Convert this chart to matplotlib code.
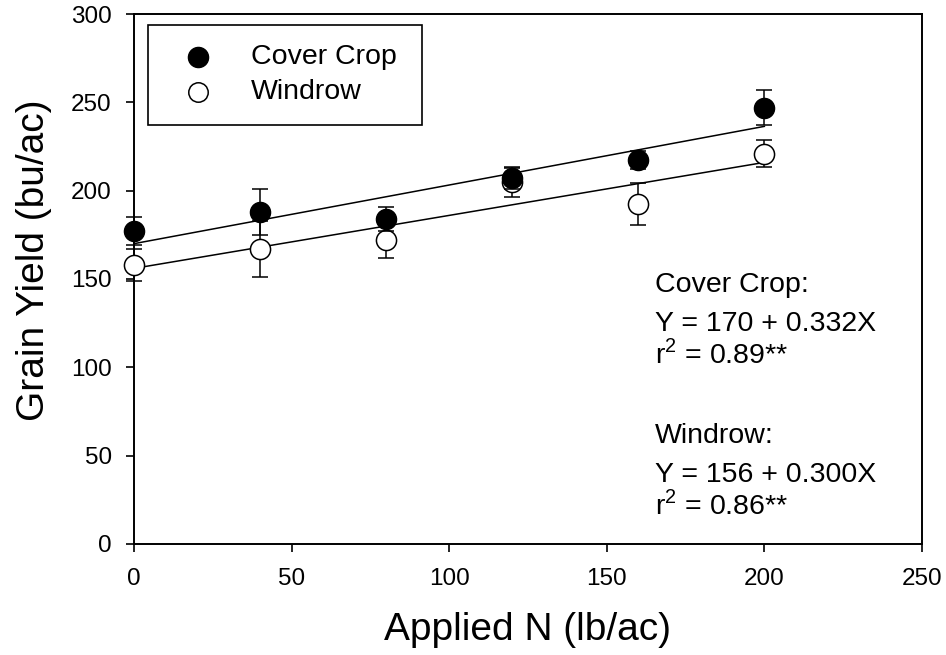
import numpy as np
import matplotlib
matplotlib.use("Agg")
import matplotlib.pyplot as plt
from matplotlib.patches import Rectangle

plt.rcParams['font.family'] = ['Liberation Sans', 'DejaVu Sans']

# data
n_rate = [0, 40, 80, 120, 160, 200]
cover_yield = [177, 188, 184, 207, 217.5, 247]
cover_err = [8, 13, 7, 6, 5, 10]
windrow_yield = [158, 167, 172, 205, 192.5, 221]
windrow_err = [9, 16, 10, 8.5, 12, 7.5]

# fitted lines (from the equations on the chart)
cover_fit = (170, 0.332)
windrow_fit = (156, 0.300)
fit_range = [0, 200]

series_names = ['Cover Crop', 'Windrow']
eq_lines = [
    'Cover Crop:', 'Y = 170 + 0.332X', r'r$^{\mathregular{2}}$ = 0.89**',
    'Windrow:', 'Y = 156 + 0.300X', r'r$^{\mathregular{2}}$ = 0.86**',
]
eq_y = [142.8, 120.7, 102.4, 57.2, 35.3, 17.0]

fig = plt.figure(figsize=(9.46, 6.55), dpi=100)
ax = fig.add_axes([0.1416, 0.1695, 0.833, 0.8091])

lw = 1.1
xf = np.array(fit_range)
ax.plot(xf, cover_fit[0] + cover_fit[1] * xf, color='black', lw=lw, zorder=2)
ax.plot(xf, windrow_fit[0] + windrow_fit[1] * xf, color='black', lw=lw, zorder=2)

eb1 = ax.errorbar(n_rate, cover_yield, yerr=cover_err, fmt='o', color='black',
                  mfc='black', mec='black', ms=14.5, ecolor='black', elinewidth=lw,
                  capsize=6, capthick=lw, zorder=4)
eb2 = ax.errorbar(n_rate, windrow_yield, yerr=windrow_err, fmt='o', color='black',
                  mfc='white', mec='black', mew=1.1, ms=14.5, ecolor='black',
                  elinewidth=lw, capsize=6, capthick=lw, zorder=3)
for eb in (eb1, eb2):
    for art in eb.get_children():
        art.set_clip_on(False)

ax.set_xlim(0, 250)
ax.set_ylim(0, 300)
ax.set_xticks([0, 50, 100, 150, 200, 250])
ax.set_yticks([0, 50, 100, 150, 200, 250, 300])
ax.tick_params(direction='out', length=6, width=1.2, labelsize=17.5,
               top=False, right=False)
ax.tick_params(axis='x', pad=11)
ax.tick_params(axis='y', pad=10)
for s in ax.spines.values():
    s.set_linewidth(1.4)

ax.set_xlabel('Applied N (lb/ac)', fontsize=28)
ax.set_ylabel('Grain Yield (bu/ac)', fontsize=28)
ax.xaxis.set_label_coords(0.5, -0.128)
ax.yaxis.set_label_coords(-0.104, 0.535)

# legend drawn by hand to match the boxed layout
ax.add_patch(Rectangle((0.0178, 0.7906), 0.3477, 0.1887, transform=ax.transAxes,
                       fill=False, edgecolor='black', lw=1.2, clip_on=False, zorder=5))
leg_y = [0.9194, 0.8534]
ax.plot(0.0812, leg_y[0], 'o', ms=14.5, mfc='black', mec='black',
        transform=ax.transAxes, clip_on=False, zorder=6)
ax.plot(0.0812, leg_y[1], 'o', ms=14, mfc='white', mec='black', mew=1.1,
        transform=ax.transAxes, clip_on=False, zorder=6)
for name, yy in zip(series_names, leg_y):
    ax.text(0.148, yy, name, transform=ax.transAxes, fontsize=20.5,
            va='center', ha='left')

for line, yy in zip(eq_lines, eq_y):
    ax.text(165.3, yy, line, fontsize=20.5, va='baseline', ha='left')

fig.savefig('out.png', dpi=100)
